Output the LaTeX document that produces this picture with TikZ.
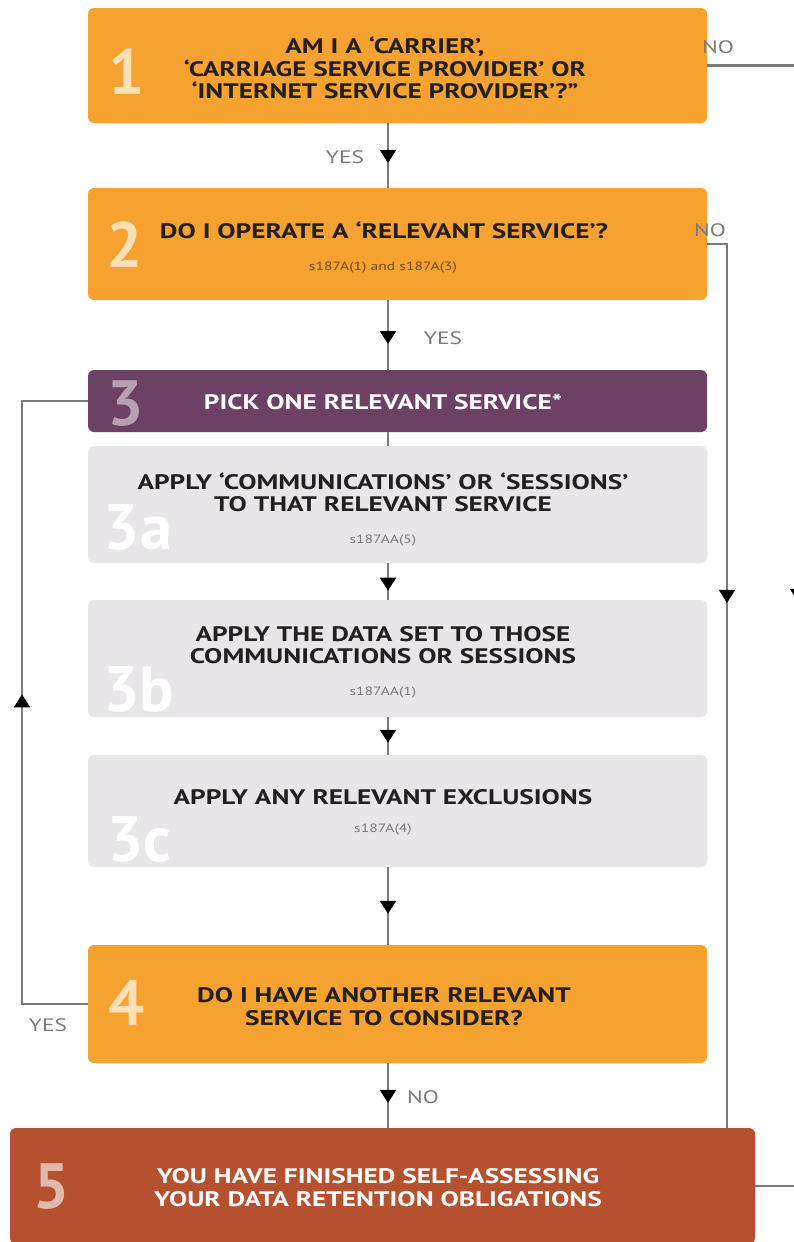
\documentclass[tikz,border=0pt]{standalone}
\usepackage{fontspec}
\setmainfont{PT Sans}
\newfontfamily\widefont[FakeStretch=1.3]{PT Sans}
\usetikzlibrary{arrows.meta,decorations.markings}

\definecolor{steporange}{HTML}{F6A231}
\definecolor{steppurple}{HTML}{6D4163}
\definecolor{stepgrey}{HTML}{E9E6E9}
\definecolor{steprust}{HTML}{B5512F}
\definecolor{linegrey}{HTML}{7A7A7A}
\definecolor{textdark}{HTML}{231F20}

\tikzset{
  stepbox/.style={rounded corners=6pt, inner sep=0pt, minimum width=619pt},
  steptext/.style={align=center, font=\widefont\bfseries\fontsize{21}{22.5}\selectfont, text=textdark, inner sep=0pt},
  subtext/.style={font=\widefont\fontsize{12}{14}\selectfont, inner sep=0pt},
  bignum/.style={font=\bfseries\fontsize{64}{64}\selectfont, inner sep=0pt},
  answer/.style={font=\widefont\fontsize{18}{20}\selectfont, text=linegrey, inner sep=0pt},
  connect/.style={draw=linegrey, line width=2.2pt},
  midarrow/.style={postaction={decorate,decoration={markings,
      mark=at position #1 with {\arrow[black]{Triangle[width=16pt,length=13pt]}}}}}
}

\begin{document}
\begin{tikzpicture}[x=1pt,y=-1pt]
    \clip (0,0) rectangle (794,1242);
    \fill[white] (0,0) rectangle (794,1242);
    \coordinate (axis) at (388,0);

    % boxes
    \node[stepbox, fill=steporange, minimum height=115pt] (b1) at (397.5,65.5) {};
    \node[stepbox, fill=steporange, minimum height=112pt] (b2) at (397.5,244) {};
    \node[stepbox, fill=steppurple, minimum height=62pt] (b3) at (397.5,401) {};
    \node[stepbox, fill=stepgrey, minimum height=117pt] (b3a) at (397.5,504.5) {};
    \node[stepbox, fill=stepgrey, minimum height=117pt] (b3b) at (397.5,658.5) {};
    \node[stepbox, fill=stepgrey, minimum height=112pt] (b3c) at (397.5,811) {};
    \node[stepbox, fill=steporange, minimum height=118pt] (b4) at (397.5,1004) {};
    \node[stepbox, fill=steprust, minimum width=745pt, minimum height=116pt] (b5) at (382.5,1186) {};

    % big step numbers
    \node[bignum, text=steporange!35!white] (n1) at (127,72) {1};
    \node[bignum, text=steporange!35!white] (n2) at (125,245) {2};
    \node[bignum, text=steppurple!50!white] (n3) at (126,404) {3};
    \node[bignum, text=white] (n3a) at (138,528) {3a};
    \node[bignum, text=white] (n3b) at (139,690) {3b};
    \node[bignum, text=white] (n3c) at (139,840) {3c};
    \node[bignum, text=steporange!35!white] (n4) at (127,1003) {4};
    \node[bignum, text=steprust!40!white] (n5) at (52,1187) {5};

    % step texts
    \node[steptext] (t1) at (385,68) {AM I A ‘CARRIER’,\\‘CARRIAGE SERVICE PROVIDER’ OR\\‘INTERNET SERVICE PROVIDER’?”};
    \node[steptext] (t2) at (384,230) {DO I OPERATE A ‘RELEVANT SERVICE’?};
    \node[subtext, text=steporange!45!black] (s2) at (383,268) {s187A(1) and s187A(3)};
    \node[steptext, text=white] (t3) at (383,402) {PICK ONE RELEVANT SERVICE*};
    \node[steptext] (t3a) at (383,492.5) {APPLY ‘COMMUNICATIONS’ OR ‘SESSIONS’\\TO THAT RELEVANT SERVICE};
    \node[subtext, text=linegrey] (s3a) at (383,541) {s187AA(5)};
    \node[steptext] (t3b) at (383,645) {APPLY THE DATA SET TO THOSE\\COMMUNICATIONS OR SESSIONS};
    \node[subtext, text=linegrey] (s3b) at (383,693) {s187AA(1)};
    \node[steptext] (t3c) at (383,797) {APPLY ANY RELEVANT EXCLUSIONS};
    \node[subtext, text=linegrey] (s3c) at (383,830) {s187A(4)};
    \node[steptext] (t4) at (384,1006.5) {DO I HAVE ANOTHER RELEVANT\\SERVICE TO CONSIDER?};
    \node[steptext, text=white] (t5) at (378,1187.5) {YOU HAVE FINISHED SELF-ASSESSING\\YOUR DATA RETENTION OBLIGATIONS};

    % answers
    \node[answer] (no1) at (718,47) {NO};
    \node[answer] (no2) at (710,230) {NO};
    \node[answer] (yes1) at (345,157) {YES};
    \node[answer] (yes2) at (443,338) {YES};
    \node[answer] (yes3) at (48,1025) {YES};
    \node[answer] (no3) at (423,1097) {NO};

    % connectors
    \coordinate (turn1) at (798,65.5);
    \coordinate (turn2) at (727,244);
    \coordinate (loop) at (22,1004);
    \draw[connect,midarrow=0.615] (b1.south -| axis) -- (b2.north -| axis);
    \draw[connect,midarrow=0.63] (b2.south -| axis) -- (b3.north -| axis);
    \draw[connect] (b3.south -| axis) -- (b3a.north -| axis);
    \draw[connect,midarrow=0.75] (b3a.south -| axis) -- (b3b.north -| axis);
    \draw[connect,midarrow=0.68] (b3b.south -| axis) -- (b3c.north -| axis);
    \draw[connect,midarrow=0.6] (b3c.south -| axis) -- (b4.north -| axis);
    \draw[connect,midarrow=0.615] (b4.south -| axis) -- (b5.north -| axis);
    \draw[connect,midarrow=0.419] (b2.east) -- (turn2) -- (turn2 |- b5.north);
    \draw[connect,midarrow=0.511] (b4.west) -- (loop) -- (loop |- b3.west) -- (b3.west);
    \draw[connect,midarrow=0.5] (b1.east) -- (turn1) -- (turn1 |- b5.east) -- (b5.east);
\end{tikzpicture}
\end{document}
